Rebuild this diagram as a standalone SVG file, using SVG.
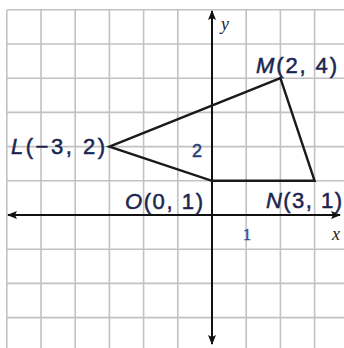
<svg xmlns="http://www.w3.org/2000/svg" width="344" height="348" viewBox="0 0 344 348">
<style>
.grid{stroke:#c2c2c2;stroke-width:1.6;fill:none}
.axis{stroke:#111;stroke-width:2;fill:none}
.edge{stroke:#1a1a1a;stroke-width:2.4;fill:none;stroke-linejoin:miter}
.lbl{font-family:"Liberation Sans",Arial,sans-serif;font-size:22px;fill:#1b2550;stroke:#1b2550;stroke-width:0.5}
.it{font-style:italic}
.ax{font-family:"Liberation Serif","Times New Roman",serif;font-style:italic;font-size:18px;fill:#222}
.num{font-family:"Liberation Sans",Arial,sans-serif;font-size:18px;fill:#24407a;stroke:#24407a;stroke-width:0.5}
.tick{font-family:"Liberation Serif","Times New Roman",serif;font-size:16px;fill:#2b4f8f;stroke:#2b4f8f;stroke-width:0.4}
</style>
<defs>
<marker id="arr" viewBox="0 0 10 8" markerWidth="10" markerHeight="8" refX="9" refY="4" markerUnits="userSpaceOnUse" orient="auto-start-reverse">
<path d="M0,0 L10,4 L0,8 L2,4 z" fill="#111"/>
</marker>
</defs>
<rect width="344" height="348" fill="#fff"/>
<g id="grid">
<path class="grid" d="M6.8,10 V348 M41,10 V348 M75.2,10 V348 M109.4,10 V348 M143.6,10 V348 M177.8,10 V348 M246.2,10 V348 M280.4,10 V348 M314.6,10 V348"/>
<path class="grid" d="M6.8,9.8 H344 M6.8,44 H344 M6.8,78.2 H344 M6.8,112.4 H344 M6.8,146.6 H344 M6.8,180.8 H344 M6.8,249.2 H344 M6.8,283.4 H344 M6.8,317.6 H344"/>
</g>
<g id="axes">
<line class="axis" x1="212" y1="344" x2="212" y2="11" marker-start="url(#arr)" marker-end="url(#arr)"/>
<line class="axis" x1="8" y1="215" x2="340" y2="215" marker-start="url(#arr)" marker-end="url(#arr)"/>
<text class="ax" x="221" y="30">y</text>
<text class="ax" x="332" y="240">x</text>
<text class="tick" x="243" y="240">1</text>
<text class="num" x="192" y="157">2</text>
</g>
<g id="connectors">
<polygon class="edge" points="109.4,146.6 280.4,78.2 314.6,180.8 212,180.8"/>
</g>
<g id="L"><text class="lbl" x="11" y="154" textLength="94" lengthAdjust="spacing"><tspan class="it">L</tspan>(−3, 2)</text></g>
<g id="M"><text class="lbl" x="256" y="73" textLength="81" lengthAdjust="spacing"><tspan class="it">M</tspan>(2, 4)</text></g>
<g id="O"><text class="lbl" x="125" y="209" textLength="78" lengthAdjust="spacing"><tspan class="it">O</tspan>(0, 1)</text></g>
<g id="N"><text class="lbl" x="266" y="208" textLength="76" lengthAdjust="spacing"><tspan class="it">N</tspan>(3, 1)</text></g>
</svg>
